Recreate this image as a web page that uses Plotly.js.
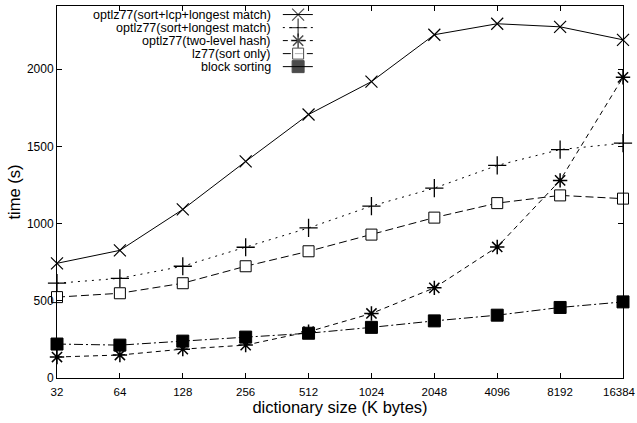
<!DOCTYPE html>
<html><head><meta charset="utf-8">
<script src="https://cdn.plot.ly/plotly-3.0.1.min.js"></script>
<style>html,body{margin:0;padding:0;background:#fff}#chart{width:637px;height:423px}</style>
</head><body><div id="chart"></div>
<script>
// ---- data ----
const dictSizes = ['32','64','128','256','512','1024','2048','4096','8192','16384'];
const seriesNames = ['optlz77(sort+lcp+longest match)','optlz77(sort+longest match)','optlz77(two-level hash)','lz77(sort only)','block sorting'];
const sortLcpLongest = [743, 827, 1092, 1403, 1707, 1920, 2224, 2295, 2275, 2191];
const sortLongest    = [614, 646, 724, 847, 972, 1114, 1230, 1377, 1480, 1521];
const twoLevelHash   = [136, 149, 187, 213, 300, 418, 584, 849, 1280, 1948];
const lz77SortOnly   = [524, 549, 614, 724, 821, 929, 1039, 1133, 1183, 1162];
const blockSorting   = [220, 213, 239, 265, 290, 328, 370, 407, 457, 493];
const yTicks = [0, 500, 1000, 1500, 2000];

// ---- styles ----
const allValues = [sortLcpLongest, sortLongest, twoLevelHash, lz77SortOnly, blockSorting];
const styles = [
  {symbol:'x-thin-open', size:12, color:'#000', lw:1.2, dash:'solid'},
  {symbol:'cross-thin-open', size:13, color:'#000', lw:1.3, dash:'2px,5px'},
  {symbol:'asterisk-open', size:12, color:'#000', lw:1.5, dash:'5px,4px'},
  {symbol:'square', size:11, color:'#fff', lw:1, dash:'8px,4px'},
  {symbol:'square', size:12, color:'#000', lw:1, dash:'9px,3px,2px,3px'}
];
const FONT = 'Liberation Sans, Arial, Helvetica, sans-serif';

const traces = allValues.map((vals, i) => ({
  type:'scatter', mode:'lines+markers', x:dictSizes, y:vals, name:seriesNames[i],
  cliponaxis:false, showlegend:false,
  line:{color:'#000', width:1, dash:styles[i].dash},
  marker:{symbol:styles[i].symbol, size:styles[i].size, color:styles[i].color,
          line:{color:'#000', width:styles[i].lw}}
}));

// ---- custom legend (text left, sample right) ----
const LEG_TOP = 0.977, LEG_STEP = 0.035;
const LEG_SX = [0.399, 0.426, 0.452];
const LEG_TX = 0.382;
const annotations = [];
seriesNames.forEach((nm, i) => {
  const yy = LEG_TOP - i*LEG_STEP;
  traces.push({
    type:'scatter', mode:'lines+markers', xaxis:'x2', yaxis:'y2',
    x:LEG_SX, y:[yy,yy,yy], showlegend:false, hoverinfo:'skip', cliponaxis:false,
    line:{color:'#000', width:1, dash: i===0 || i===4 ? 'solid' : styles[i].dash},
    marker:{symbol:styles[i].symbol, size:[0, styles[i].size, 0], color:styles[i].color,
            line:{color:'#000', width:styles[i].lw}}
  });
  annotations.push({xref:'paper', yref:'paper', x:LEG_TX, y:yy, xanchor:'right', yanchor:'middle',
    text:nm, showarrow:false, font:{family:FONT, size:12.5, color:'#000'}});
});

// last x tick label drawn as an annotation, right-aligned so it stays on the page
const lastSize = dictSizes[dictSizes.length - 1];
const xTickText = dictSizes.map((s, i) => i === dictSizes.length - 1 ? '' : s);
annotations.push({xref:'paper', yref:'paper', x:1, y:0, xanchor:'right', yanchor:'middle',
  xshift:14, yshift:-14, text:lastSize, showarrow:false, borderpad:0,
  font:{family:FONT, size:11.5, color:'#000'}});

const axisCommon = {showline:true, linecolor:'#000', linewidth:1, mirror:'ticks',
  ticks:'inside', ticklen:5, tickcolor:'#000', showgrid:false, zeroline:false,
  tickfont:{family:FONT, size:12, color:'#000'}};

const layout = {
  width:637, height:423,
  margin:{l:57, r:14, t:6, b:45},
  paper_bgcolor:'#fff', plot_bgcolor:'#fff',
  showlegend:false,
  xaxis:Object.assign({}, axisCommon, {type:'category', range:[0, dictSizes.length-1],
    tickmode:'array', tickvals:dictSizes, ticktext:xTickText,
    tickfont:{family:FONT, size:11.5, color:'#000'}, ticklabelstandoff:3,
    title:{text:'dictionary size (K bytes)', font:{family:FONT, size:16.5, color:'#000'}, standoff:4}}),
  yaxis:Object.assign({}, axisCommon, {range:[0, 2410], tickvals:yTicks,
    title:{text:'time (s)', font:{family:FONT, size:16.5, color:'#000'}, standoff:2}}),
  xaxis2:{overlaying:'x', range:[0,1], visible:false, fixedrange:true},
  yaxis2:{overlaying:'y', range:[0,1], visible:false, fixedrange:true},
  annotations:annotations
};

Plotly.newPlot('chart', traces, layout, {staticPlot:true, displayModeBar:false});
</script></body></html>
